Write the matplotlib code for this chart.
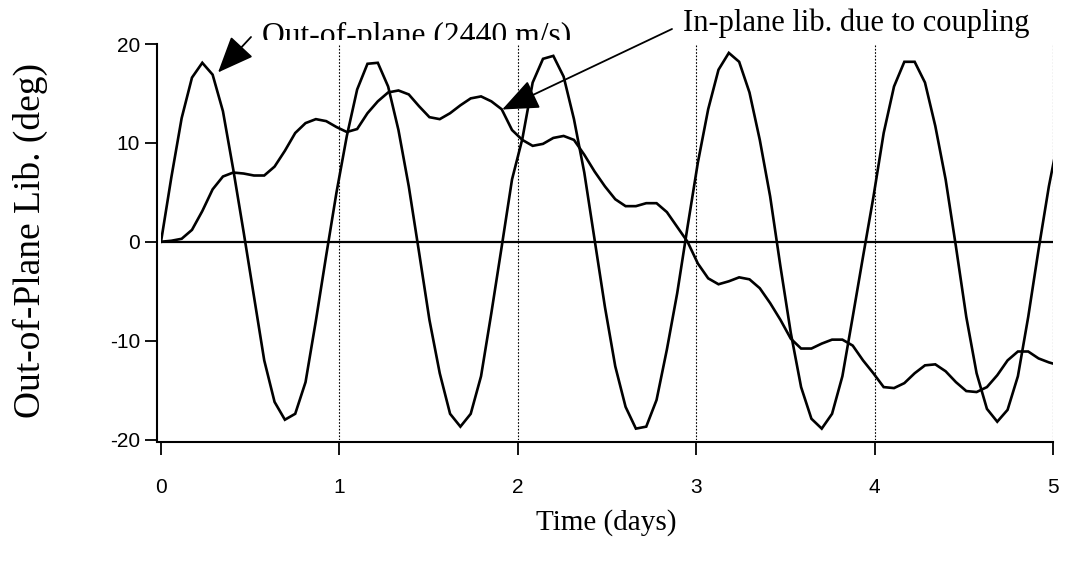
import numpy as np
import matplotlib
matplotlib.use("Agg")
import matplotlib.pyplot as plt
from matplotlib.transforms import Bbox

# ---- data (sampled every 5000 s) ----
n_pts = 88
time_days = np.arange(n_pts) * 5000.0 / 86400.0

out_of_plane = [
    0.0, 6.5, 12.5, 16.6, 18.1, 16.9, 13.2, 7.3, 1.0, -5.5,
    -12.0, -16.2, -18.0, -17.4, -14.2, -8.0, -1.4, 5.0, 10.7, 15.4,
    18.0, 18.1, 15.7, 11.3, 5.6, -1.1, -7.9, -13.3, -17.4, -18.7,
    -17.4, -13.6, -7.2, -0.5, 6.3, 10.4, 16.1, 18.5, 18.8, 16.7,
    12.4, 7.0, 0.2, -6.6, -12.6, -16.7, -18.9, -18.7, -16.0, -10.9,
    -5.2, 1.5, 8.0, 13.4, 17.4, 19.1, 18.2, 15.1, 10.3, 4.6,
    -2.5, -9.2, -14.7, -17.9, -18.9, -17.4, -13.6, -7.6, -1.5, 4.5,
    11.0, 15.7, 18.2, 18.2, 16.1, 11.7, 6.3, -0.5, -7.6, -13.3,
    -16.9, -18.2, -17.0, -13.6, -7.6, -0.8, 5.6, 10.9,
]

in_plane = [
    0.0, 0.1, 0.3, 1.2, 3.1, 5.3, 6.6, 7.0, 6.9, 6.7,
    6.7, 7.6, 9.2, 11.0, 12.0, 12.4, 12.2, 11.6, 11.1, 11.4,
    13.0, 14.2, 15.1, 15.3, 14.9, 13.7, 12.6, 12.4, 13.0, 13.8,
    14.5, 14.7, 14.2, 13.4, 11.3, 10.3, 9.7, 9.9, 10.5, 10.7,
    10.3, 8.8, 7.1, 5.6, 4.3, 3.6, 3.6, 3.9, 3.9, 3.0,
    1.5, 0.0, -2.2, -3.7, -4.3, -4.0, -3.6, -3.8, -4.7, -6.2,
    -7.9, -9.8, -10.8, -10.8, -10.3, -9.9, -9.9, -10.5, -12.0, -13.3,
    -14.7, -14.8, -14.3, -13.3, -12.5, -12.4, -13.1, -14.2, -15.1, -15.2,
    -14.7, -13.5, -12.0, -11.1, -11.1, -11.8, -12.2, -12.5,
]

x_ticks = [0, 1, 2, 3, 4, 5]
y_ticks = [-20, -10, 0, 10, 20]
y_tick_labels = ["-20", "-10", "0", "10", "20"]

W, H = 1067, 565
fig = plt.figure(figsize=(W / 100, H / 100), dpi=100)
ax = fig.add_axes([161 / W, 1 - 439.5 / H, (1053 - 161) / W, (439.5 - 44) / H])

serif = ["Liberation Serif", "DejaVu Serif"]
sans = ["Liberation Sans", "DejaVu Sans"]

ax.set_xlim(0, 5)
ax.set_ylim(-20, 20)

# dotted verticals at integer days
for xv in x_ticks[1:]:
    ax.axvline(xv, color="black", lw=0.8, ls=(0, (1.5, 1.5)), zorder=1)
ax.axhline(0, color="black", lw=1.6, zorder=2)

ax.plot(time_days, out_of_plane, color="black", lw=1.9, zorder=3,
        solid_joinstyle="miter")
ax.plot(time_days, in_plane, color="black", lw=1.9, zorder=3,
        solid_joinstyle="miter")

for s in ["top", "right"]:
    ax.spines[s].set_visible(False)
ax.spines["left"].set_position(("outward", 3))
ax.spines["bottom"].set_position(("outward", 1.5))
ax.spines["left"].set_linewidth(1.5)
ax.spines["bottom"].set_linewidth(1.5)
ax.spines["bottom"].set_bounds(-0.025, 5)
ax.spines["left"].set_bounds(-20.15, 20)

ax.set_xticks(x_ticks)
ax.set_xticklabels([str(v) for v in x_ticks], fontfamily=sans, fontsize=15)
ax.set_yticks(y_ticks)
ax.set_yticklabels(y_tick_labels, fontfamily=sans, fontsize=15)
ax.tick_params(axis="x", direction="out", length=9, width=1.3, pad=17)
ax.tick_params(axis="y", direction="out", length=9, width=1.3, pad=3)

fig.text(606 / W, 1 - 523 / H, "Time (days)", ha="center", va="center",
         fontfamily=serif, fontsize=21)
fig.text(30 / W, 1 - 240 / H, "Out-of-Plane Lib. (deg)", ha="center",
         va="center", rotation=90, fontfamily=serif, fontsize=27)

clip = Bbox([[0, H - 40], [W, H]])
t1 = fig.text(262 / W, (H - 44) / H, "Out-of-plane (2440 m/s)", ha="left",
              va="baseline", fontfamily=serif, fontsize=22.8)
t2 = fig.text(683 / W, (H - 31.5) / H, "In-plane lib. due to coupling",
              ha="left", va="baseline", fontfamily=serif, fontsize=22)
for t in (t1, t2):
    t.set_clip_on(True)
    t.set_clip_box(clip)

arrow_kw = dict(arrowstyle="-|>,head_length=1.2,head_width=0.5",
                color="black", lw=1.3, shrinkA=0, shrinkB=0,
                mutation_scale=19)
ax.annotate("", xy=((218 - 161) / 178.3, (242 - 73) / 9.87),
            xytext=(251, H - 37), textcoords="figure pixels",
            arrowprops=arrow_kw, annotation_clip=False)
ax.annotate("", xy=((502 - 161) / 178.3, (242 - 110) / 9.87),
            xytext=(672, H - 29), textcoords="figure pixels",
            arrowprops=arrow_kw, annotation_clip=False)

fig.savefig("out.png", dpi=100)
